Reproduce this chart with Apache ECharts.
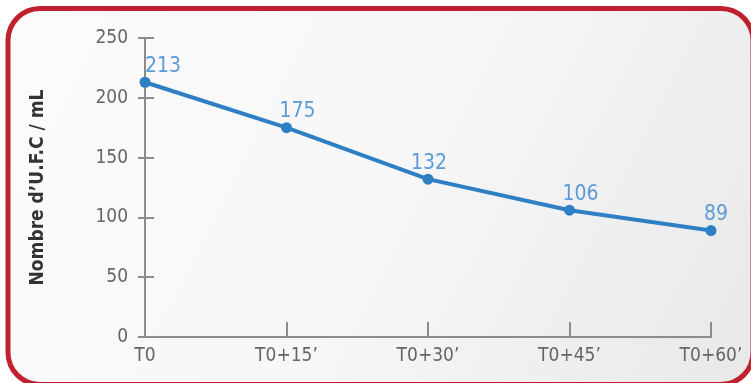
<!DOCTYPE html>
<html>
<head>
<meta charset="utf-8">
<script src="https://cdn.jsdelivr.net/npm/echarts@6/dist/echarts.min.js"></script>
<style>
  html, body { margin: 0; padding: 0; background: #fff; }
  #chart { width: 751px; height: 383px; }
</style>
</head>
<body>
<div id="chart"></div>
<script>
var categories = ['T0', 'T0+15\u2019', 'T0+30\u2019', 'T0+45\u2019', 'T0+60\u2019'];
var ufcValues = [213, 175, 132, 106, 89];
var yTicks = [0, 50, 100, 150, 200, 250];

var font = '"Liberation Sans Narrow", "DejaVu Sans Condensed", "Roboto", sans-serif';
var axisGrey = '#8c8c8c';
// horizontal nudge of each value label, as in the picture
var labelShift = [18, 11, 1, 11, 5];

var chart = echarts.init(document.getElementById('chart'));

var yBase = {
    type: 'value',
    min: yTicks[0],
    max: yTicks[yTicks.length - 1],
    interval: 50,
    position: 'left',
    splitLine: { show: false },
    axisLine: { show: true, lineStyle: { color: axisGrey, width: 2 } }
};

chart.setOption({
    animation: false,
    graphic: [
        {
            type: 'rect',
            z: -10,
            shape: { x: 8, y: 8.5, width: 745, height: 376, r: 32 },
            style: {
                fill: new echarts.graphic.LinearGradient(0, 0, 1, 1, [
                    { offset: 0, color: '#fbfbfb' },
                    { offset: 0.5, color: '#f7f7f7' },
                    { offset: 1, color: '#e8e8e8' }
                ]),
                stroke: '#c1202e',
                lineWidth: 5
            }
        }
    ],
    grid: { left: 145, right: 40, top: 38, bottom: 46 },
    xAxis: {
        type: 'category',
        data: categories,
        boundaryGap: false,
        axisLine: { lineStyle: { color: axisGrey, width: 2 } },
        axisTick: { show: true, inside: true, length: 15, alignWithLabel: true,
            lineStyle: { color: axisGrey, width: 2 } },
        axisLabel: { color: '#666', fontFamily: font, fontSize: 19, margin: 10 }
    },
    yAxis: [
        Object.assign({}, yBase, {
            name: 'Nombre d\u2019U.F.C / mL',
            nameLocation: 'middle',
            nameRotate: 90,
            nameGap: 97,
            nameTextStyle: { color: '#333', fontFamily: font, fontSize: 19, fontWeight: 'bold' },
            axisTick: { show: true, length: 7, lineStyle: { color: axisGrey, width: 2 } },
            axisLabel: { color: '#666', fontFamily: font, fontSize: 19, margin: 17 }
        }),
        Object.assign({}, yBase, {
            axisTick: { show: true, inside: true, length: 9, lineStyle: { color: axisGrey, width: 2 } },
            axisLabel: { show: false }
        })
    ],
    series: [
        {
            type: 'line',
            yAxisIndex: 0,
            data: ufcValues,
            symbol: 'circle',
            symbolSize: 11,
            lineStyle: { color: '#2f7fc5', width: 4 },
            itemStyle: { color: '#2f7fc5' },
            label: {
                show: true,
                position: 'top',
                distance: 0,
                color: '#5b9bd8',
                fontFamily: font,
                fontSize: 21
            },
            labelLayout: function (p) {
                return { dx: labelShift[p.dataIndex] };
            }
        }
    ]
});
</script>
</body>
</html>
